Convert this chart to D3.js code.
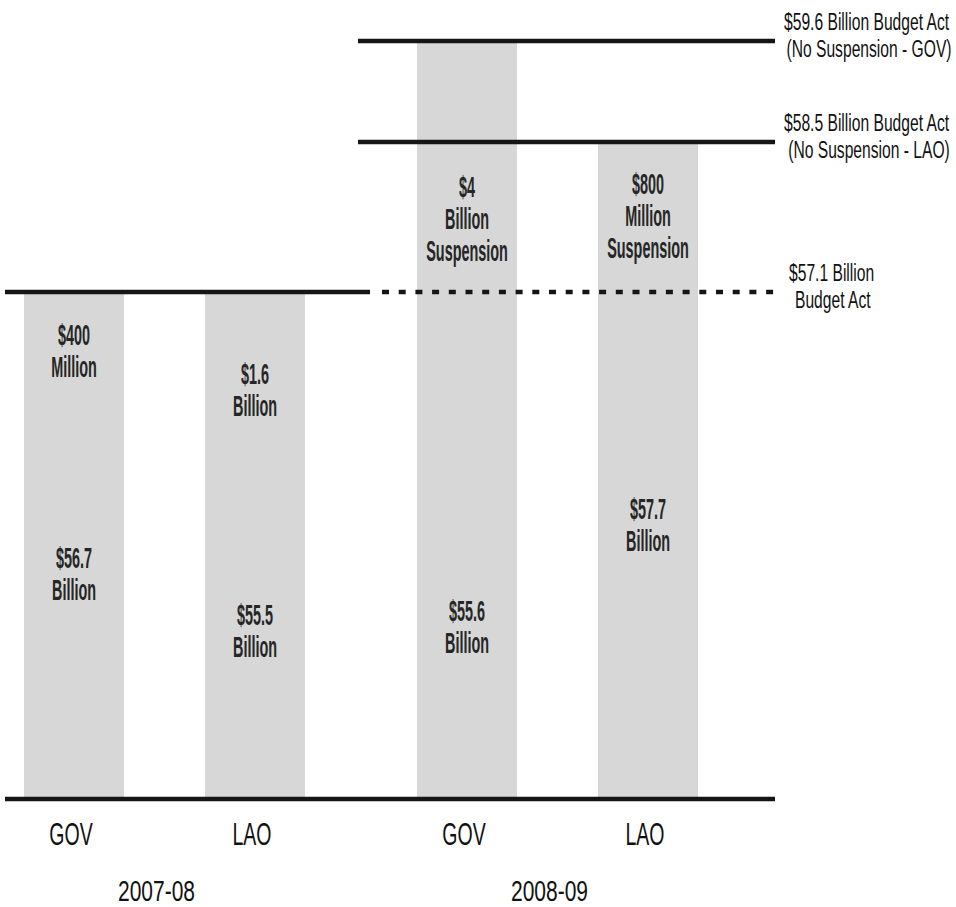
<!DOCTYPE html>
<html>
<head>
<meta charset="utf-8">
<script src="https://cdn.jsdelivr.net/npm/d3@7"></script>
<style>
  html, body { margin: 0; padding: 0; background: #fff; }
  svg { display: block; font-family: "Liberation Sans", Arial, sans-serif; }
</style>
</head>
<body>
<div id="chart"></div>
<script>
// data (billions of dollars)
var years = ["2007-08", "2008-09"];
var sources = ["GOV", "LAO"];
var baseValues = [56.7, 55.5, 55.6, 57.7];   // GOV 07-08, LAO 07-08, GOV 08-09, LAO 08-09
var extraValues = [0.4, 1.6, 4.0, 0.8];      // added amount / suspension on top
var baseLabels = [["$56.7", "Billion"], ["$55.5", "Billion"], ["$55.6", "Billion"], ["$57.7", "Billion"]];
var extraLabels = [["$400", "Million"], ["$1.6", "Billion"], ["$4", "Billion", "Suspension"], ["$800", "Million", "Suspension"]];
var budgetValues = [59.6, 58.5, 57.1];
var budgetYears = ["2008-09", "2008-09", "2007-08"];
var budgetNotes = [
  ["$59.6 Billion Budget Act", "(No Suspension - GOV)"],
  ["$58.5 Billion Budget Act", "(No Suspension - LAO)"],
  ["$57.1 Billion", "Budget Act"]
];

var width = 956, height = 907;
var plotLeft = 5, plotRight = 775;
var noteAlign = ["middle", "middle", "start"];

var rows = [];
years.forEach(function(yr, i) {
  sources.forEach(function(src, j) {
    var k = i * sources.length + j;
    rows.push({ year: yr, source: src, base: baseValues[k], extra: extraValues[k], idx: k });
  });
});

var svg = d3.select("#chart").append("svg")
  .attr("width", width)
  .attr("height", height);

var x0 = d3.scaleBand().domain(years).range([0, 722]).paddingInner(0.163);
var x1 = d3.scaleBand().domain(sources).range([0, x0.bandwidth()])
  .paddingInner(0.4475).paddingOuter(0.1326);

// schematic, truncated value axis
var y = d3.scaleLinear()
  .domain([52, 57.1, 58.5, 59.6])
  .range([797, 292, 142, 41])
  .clamp(true);

var stack = d3.stack().keys(["base", "extra"]);
var series = stack(rows);

function barX(d) { return x0(d.data.year) + x1(d.data.source); }

svg.append("g").selectAll("g")
  .data(series)
  .enter().append("g")
  .attr("fill", "#d7d7d7")
  .attr("shape-rendering", "crispEdges")
  .selectAll("rect")
  .data(function(s) { return s; })
  .enter().append("rect")
  .attr("x", barX)
  .attr("width", x1.bandwidth())
  .attr("y", function(d) { return Math.round(y(d[1])); })
  .attr("height", function(d) { return Math.round(y(d[0])) - Math.round(y(d[1])); });

// text helper with horizontal condensing
function label(g, x, yc, lines, opt) {
  var fs = opt.size, lh = opt.lh || fs;
  var first = yc - (lines.length - 1) * lh / 2 + fs * 0.36;
  var t = g.append("text")
    .attr("transform", "translate(" + x + "," + first + ") scale(" + opt.sx + ",1)")
    .attr("text-anchor", opt.anchor || "middle")
    .attr("font-size", fs)
    .attr("font-weight", opt.weight || "normal")
    .attr("fill", opt.fill || "#111");
  lines.forEach(function(s, i) {
    t.append("tspan").attr("x", 0).attr("dy", i === 0 ? 0 : lh).text(s);
  });
  return t;
}

var labelsG = svg.append("g");
var barOpt = { size: 30, lh: 32, sx: 0.48, weight: "bold", fill: "#262626" };
rows.forEach(function(r) {
  var cx = x0(r.year) + x1(r.source) + x1.bandwidth() / 2;
  var yTop = y(r.base + r.extra), yMid = y(r.base), yBot = y.range()[0];
  label(labelsG, cx, yTop + 45 + 0.33 * (yMid - yTop), extraLabels[r.idx], barOpt);
  label(labelsG, cx, yMid + 0.52 * (yBot - yMid), baseLabels[r.idx], barOpt);
});

// budget act lines
var split = (x0(years[0]) + x0.bandwidth() + x0(years[1])) / 2;
var linesG = svg.append("g").attr("stroke", "#151515").attr("stroke-width", 4.5);
budgetValues.forEach(function(v, i) {
  var yy = y(v);
  if (budgetYears[i] === years[0]) {
    linesG.append("line").attr("x1", plotLeft).attr("x2", split + 9).attr("y1", yy).attr("y2", yy);
    linesG.append("line").attr("x1", split + 21).attr("x2", plotRight).attr("y1", yy).attr("y2", yy)
      .attr("stroke-dasharray", "7,9.7");
  } else {
    linesG.append("line").attr("x1", split - 3).attr("x2", plotRight).attr("y1", yy).attr("y2", yy);
  }
  var g = svg.append("g");
  var note = budgetNotes[i];
  if (noteAlign[i] === "middle") {
    label(g, 784, yy - 19, [note[0]], { size: 23, sx: 0.68, anchor: "start" });
    label(g, 869, yy + 8, [note[1]], { size: 23, sx: 0.68, anchor: "middle" });
  } else {
    label(g, 789, yy - 19, [note[0]], { size: 23, sx: 0.68, anchor: "start" });
    label(g, 795, yy + 8, [note[1]], { size: 23, sx: 0.68, anchor: "start" });
  }
});

// baseline
svg.append("line")
  .attr("x1", plotLeft).attr("x2", plotRight)
  .attr("y1", y.range()[0] + 2).attr("y2", y.range()[0] + 2)
  .attr("stroke", "#151515").attr("stroke-width", 4.5);

// category and year labels
var axisG = svg.append("g");
rows.forEach(function(r) {
  var cx = x0(r.year) + x1(r.source) + x1.bandwidth() / 2 - 3;
  label(axisG, cx, 834, [r.source], { size: 31, sx: 0.63 });
});
years.forEach(function(yr) {
  label(axisG, x0(yr) + x0.bandwidth() / 2 - 8, 890, [yr], { size: 30, sx: 0.7 });
});
</script>
</body>
</html>
